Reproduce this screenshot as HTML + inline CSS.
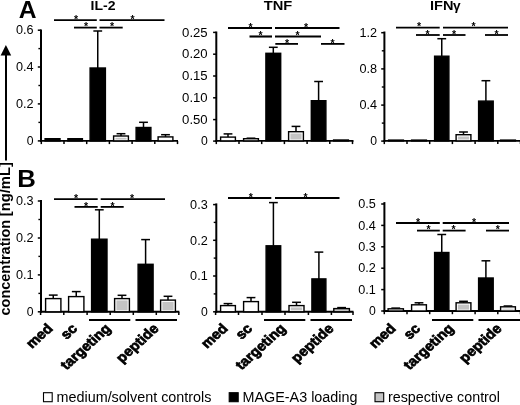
<!DOCTYPE html>
<html><head><meta charset="utf-8"><title>Figure</title>
<style>html,body{margin:0;padding:0;background:#fff;}svg{display:block}</style>
</head><body>
<svg width="520" height="405" viewBox="0 0 520 405" font-family="'Liberation Sans', Arial, sans-serif" fill="#000">
<rect width="520" height="405" fill="#fff"/>
<text x="18.80" y="18.10" font-size="23.8" font-weight="bold" textLength="17.8" lengthAdjust="spacingAndGlyphs">A</text>
<text x="17.30" y="186.80" font-size="24.6" font-weight="bold" textLength="18.6" lengthAdjust="spacingAndGlyphs">B</text>
<text x="103.00" y="10.30" font-size="13.5" font-weight="bold" text-anchor="middle" textLength="25" lengthAdjust="spacingAndGlyphs">IL-2</text>
<text x="278.00" y="10.30" font-size="13.5" font-weight="bold" text-anchor="middle" textLength="28.5" lengthAdjust="spacingAndGlyphs">TNF</text>
<text x="430.00" y="10.30" font-size="13.5" font-weight="bold" textLength="23.4" lengthAdjust="spacingAndGlyphs">IFN</text>
<text x="453.00" y="10.30" font-size="12" font-weight="bold" textLength="7.6" lengthAdjust="spacingAndGlyphs">γ</text>
<text x="9.80" y="315.50" font-size="15" font-weight="bold" textLength="95.7" lengthAdjust="spacingAndGlyphs" transform="rotate(-90 9.80 315.50)">concentration</text>
<text x="9.80" y="216.20" font-size="15" font-weight="bold" textLength="54" lengthAdjust="spacingAndGlyphs" transform="rotate(-90 9.80 216.20)">[ng/mL]</text>
<line x1="6.00" y1="54.00" x2="6.00" y2="160.50" stroke="#000" stroke-width="2"/>
<polygon points="5.9,45 0.6,55.6 11.2,55.6" fill="#000"/>
<g transform="translate(0 0.7)">
<line x1="41.00" y1="28.80" x2="41.00" y2="141.20" stroke="#000" stroke-width="2"/>
<line x1="40.00" y1="140.20" x2="178.00" y2="140.20" stroke="#000" stroke-width="1.9"/>
<line x1="37.80" y1="29.50" x2="41.00" y2="29.50" stroke="#000" stroke-width="1.5"/>
<text x="33.60" y="33.80" font-size="12" text-anchor="end" textLength="17.6" lengthAdjust="spacingAndGlyphs">0.6</text>
<line x1="37.80" y1="66.30" x2="41.00" y2="66.30" stroke="#000" stroke-width="1.5"/>
<text x="33.60" y="70.60" font-size="12" text-anchor="end" textLength="17.6" lengthAdjust="spacingAndGlyphs">0.4</text>
<line x1="37.80" y1="103.20" x2="41.00" y2="103.20" stroke="#000" stroke-width="1.5"/>
<text x="33.60" y="107.50" font-size="12" text-anchor="end" textLength="17.6" lengthAdjust="spacingAndGlyphs">0.2</text>
<line x1="37.80" y1="140.20" x2="41.00" y2="140.20" stroke="#000" stroke-width="1.5"/>
<text x="33.60" y="144.50" font-size="12" text-anchor="end" textLength="6.8" lengthAdjust="spacingAndGlyphs">0</text>
<line x1="38.40" y1="47.90" x2="41.00" y2="47.90" stroke="#000" stroke-width="1.4"/>
<line x1="38.40" y1="84.80" x2="41.00" y2="84.80" stroke="#000" stroke-width="1.4"/>
<line x1="38.40" y1="121.70" x2="41.00" y2="121.70" stroke="#000" stroke-width="1.4"/>
<line x1="41.30" y1="140.20" x2="41.30" y2="143.40" stroke="#000" stroke-width="1.5"/>
<line x1="64.00" y1="140.20" x2="64.00" y2="143.40" stroke="#000" stroke-width="1.5"/>
<line x1="86.70" y1="140.20" x2="86.70" y2="143.40" stroke="#000" stroke-width="1.5"/>
<line x1="109.40" y1="140.20" x2="109.40" y2="143.40" stroke="#000" stroke-width="1.5"/>
<line x1="132.10" y1="140.20" x2="132.10" y2="143.40" stroke="#000" stroke-width="1.5"/>
<line x1="154.80" y1="140.20" x2="154.80" y2="143.40" stroke="#000" stroke-width="1.5"/>
<line x1="177.50" y1="140.20" x2="177.50" y2="143.40" stroke="#000" stroke-width="1.5"/>
<rect x="45.10" y="138.00" width="14.90" height="2.20" fill="#000" stroke="#000" stroke-width="1.4"/>
<rect x="67.90" y="138.00" width="14.50" height="2.20" fill="#000" stroke="#000" stroke-width="1.4"/>
<line x1="97.75" y1="30.30" x2="97.75" y2="67.30" stroke="#000" stroke-width="1.5"/>
<line x1="93.35" y1="30.30" x2="102.15" y2="30.30" stroke="#000" stroke-width="1.5"/>
<rect x="90.10" y="67.30" width="15.30" height="72.90" fill="#000" stroke="#000" stroke-width="1.4"/>
<line x1="121.00" y1="133.00" x2="121.00" y2="135.30" stroke="#000" stroke-width="1.5"/>
<line x1="116.60" y1="133.00" x2="125.40" y2="133.00" stroke="#000" stroke-width="1.5"/>
<rect x="113.60" y="135.30" width="14.80" height="4.90" fill="#fff" stroke="#000" stroke-width="1.4"/>
<rect x="115.40" y="137.10" width="11.20" height="1.70" fill="#c4c4c4"/>
<line x1="143.50" y1="121.60" x2="143.50" y2="126.80" stroke="#000" stroke-width="1.5"/>
<line x1="139.10" y1="121.60" x2="147.90" y2="121.60" stroke="#000" stroke-width="1.5"/>
<rect x="136.10" y="126.80" width="14.80" height="13.40" fill="#000" stroke="#000" stroke-width="1.4"/>
<line x1="165.50" y1="134.00" x2="165.50" y2="136.20" stroke="#000" stroke-width="1.5"/>
<line x1="161.10" y1="134.00" x2="169.90" y2="134.00" stroke="#000" stroke-width="1.5"/>
<rect x="158.10" y="136.20" width="14.80" height="4.00" fill="#fff" stroke="#000" stroke-width="1.4"/>
</g>
<line x1="54.00" y1="20.20" x2="96.80" y2="20.20" stroke="#000" stroke-width="1.8"/>
<text x="76.00" y="22.90" font-size="10.5" font-weight="bold" text-anchor="middle">*</text>
<line x1="99.50" y1="20.20" x2="164.50" y2="20.20" stroke="#000" stroke-width="1.8"/>
<text x="132.50" y="22.90" font-size="10.5" font-weight="bold" text-anchor="middle">*</text>
<line x1="74.00" y1="27.60" x2="96.80" y2="27.60" stroke="#000" stroke-width="1.8"/>
<text x="86.00" y="30.30" font-size="10.5" font-weight="bold" text-anchor="middle">*</text>
<line x1="99.50" y1="27.60" x2="122.70" y2="27.60" stroke="#000" stroke-width="1.8"/>
<text x="112.00" y="30.30" font-size="10.5" font-weight="bold" text-anchor="middle">*</text>
<g transform="translate(0 0.7)">
<line x1="216.30" y1="30.80" x2="216.30" y2="141.20" stroke="#000" stroke-width="2"/>
<line x1="215.30" y1="140.20" x2="353.50" y2="140.20" stroke="#000" stroke-width="1.9"/>
<line x1="213.10" y1="31.70" x2="216.30" y2="31.70" stroke="#000" stroke-width="1.5"/>
<text x="207.70" y="36.00" font-size="12" text-anchor="end" textLength="25.6" lengthAdjust="spacingAndGlyphs">0.25</text>
<line x1="213.10" y1="53.50" x2="216.30" y2="53.50" stroke="#000" stroke-width="1.5"/>
<text x="207.70" y="57.80" font-size="12" text-anchor="end" textLength="25.6" lengthAdjust="spacingAndGlyphs">0.20</text>
<line x1="213.10" y1="75.30" x2="216.30" y2="75.30" stroke="#000" stroke-width="1.5"/>
<text x="207.70" y="79.60" font-size="12" text-anchor="end" textLength="25.6" lengthAdjust="spacingAndGlyphs">0.15</text>
<line x1="213.10" y1="97.10" x2="216.30" y2="97.10" stroke="#000" stroke-width="1.5"/>
<text x="207.70" y="101.40" font-size="12" text-anchor="end" textLength="25.6" lengthAdjust="spacingAndGlyphs">0.10</text>
<line x1="213.10" y1="118.90" x2="216.30" y2="118.90" stroke="#000" stroke-width="1.5"/>
<text x="207.70" y="123.20" font-size="12" text-anchor="end" textLength="25.6" lengthAdjust="spacingAndGlyphs">0.50</text>
<line x1="213.10" y1="140.40" x2="216.30" y2="140.40" stroke="#000" stroke-width="1.5"/>
<text x="207.70" y="144.70" font-size="12" text-anchor="end" textLength="6.8" lengthAdjust="spacingAndGlyphs">0</text>
<line x1="216.30" y1="140.20" x2="216.30" y2="143.40" stroke="#000" stroke-width="1.5"/>
<line x1="239.00" y1="140.20" x2="239.00" y2="143.40" stroke="#000" stroke-width="1.5"/>
<line x1="261.70" y1="140.20" x2="261.70" y2="143.40" stroke="#000" stroke-width="1.5"/>
<line x1="284.40" y1="140.20" x2="284.40" y2="143.40" stroke="#000" stroke-width="1.5"/>
<line x1="307.10" y1="140.20" x2="307.10" y2="143.40" stroke="#000" stroke-width="1.5"/>
<line x1="329.80" y1="140.20" x2="329.80" y2="143.40" stroke="#000" stroke-width="1.5"/>
<line x1="352.50" y1="140.20" x2="352.50" y2="143.40" stroke="#000" stroke-width="1.5"/>
<line x1="228.00" y1="133.20" x2="228.00" y2="136.40" stroke="#000" stroke-width="1.5"/>
<line x1="223.60" y1="133.20" x2="232.40" y2="133.20" stroke="#000" stroke-width="1.5"/>
<rect x="220.60" y="136.40" width="14.80" height="3.80" fill="#fff" stroke="#000" stroke-width="1.4"/>
<line x1="251.00" y1="137.50" x2="251.00" y2="138.00" stroke="#000" stroke-width="1.5"/>
<line x1="246.60" y1="137.50" x2="255.40" y2="137.50" stroke="#000" stroke-width="1.5"/>
<rect x="243.60" y="138.00" width="14.80" height="2.20" fill="#fff" stroke="#000" stroke-width="1.4"/>
<line x1="273.30" y1="46.60" x2="273.30" y2="52.60" stroke="#000" stroke-width="1.5"/>
<line x1="268.90" y1="46.60" x2="277.70" y2="46.60" stroke="#000" stroke-width="1.5"/>
<rect x="265.90" y="52.60" width="14.80" height="87.60" fill="#000" stroke="#000" stroke-width="1.4"/>
<line x1="296.00" y1="125.70" x2="296.00" y2="131.00" stroke="#000" stroke-width="1.5"/>
<line x1="291.60" y1="125.70" x2="300.40" y2="125.70" stroke="#000" stroke-width="1.5"/>
<rect x="288.60" y="131.00" width="14.80" height="9.20" fill="#fff" stroke="#000" stroke-width="1.4"/>
<rect x="290.40" y="132.80" width="11.20" height="6.00" fill="#c4c4c4"/>
<line x1="318.60" y1="80.80" x2="318.60" y2="100.00" stroke="#000" stroke-width="1.5"/>
<line x1="314.20" y1="80.80" x2="323.00" y2="80.80" stroke="#000" stroke-width="1.5"/>
<rect x="311.30" y="100.00" width="14.60" height="40.20" fill="#000" stroke="#000" stroke-width="1.4"/>
<rect x="333.60" y="139.30" width="14.80" height="0.90" fill="#fff" stroke="#000" stroke-width="1.4"/>
</g>
<line x1="228.00" y1="28.00" x2="272.00" y2="28.00" stroke="#000" stroke-width="1.8"/>
<text x="250.50" y="30.70" font-size="10.5" font-weight="bold" text-anchor="middle">*</text>
<line x1="275.00" y1="28.00" x2="339.50" y2="28.00" stroke="#000" stroke-width="1.8"/>
<text x="306.00" y="30.70" font-size="10.5" font-weight="bold" text-anchor="middle">*</text>
<line x1="249.50" y1="36.50" x2="272.00" y2="36.50" stroke="#000" stroke-width="2.1"/>
<text x="260.50" y="39.20" font-size="10.5" font-weight="bold" text-anchor="middle">*</text>
<line x1="275.00" y1="36.50" x2="321.00" y2="36.50" stroke="#000" stroke-width="1.8"/>
<text x="297.50" y="39.20" font-size="10.5" font-weight="bold" text-anchor="middle">*</text>
<line x1="275.30" y1="43.90" x2="298.00" y2="43.90" stroke="#000" stroke-width="1.8"/>
<text x="287.00" y="46.60" font-size="10.5" font-weight="bold" text-anchor="middle">*</text>
<line x1="321.00" y1="43.90" x2="344.50" y2="43.90" stroke="#000" stroke-width="1.8"/>
<text x="332.50" y="46.60" font-size="10.5" font-weight="bold" text-anchor="middle">*</text>
<g transform="translate(0 0.7)">
<line x1="384.40" y1="30.80" x2="384.40" y2="141.20" stroke="#000" stroke-width="2"/>
<line x1="383.40" y1="140.20" x2="520.00" y2="140.20" stroke="#000" stroke-width="1.9"/>
<line x1="381.20" y1="32.00" x2="384.40" y2="32.00" stroke="#000" stroke-width="1.5"/>
<text x="377.00" y="36.30" font-size="12" text-anchor="end" textLength="17.6" lengthAdjust="spacingAndGlyphs">1.2</text>
<line x1="381.20" y1="68.20" x2="384.40" y2="68.20" stroke="#000" stroke-width="1.5"/>
<text x="377.00" y="72.50" font-size="12" text-anchor="end" textLength="17.6" lengthAdjust="spacingAndGlyphs">0.8</text>
<line x1="381.20" y1="104.40" x2="384.40" y2="104.40" stroke="#000" stroke-width="1.5"/>
<text x="377.00" y="108.70" font-size="12" text-anchor="end" textLength="17.6" lengthAdjust="spacingAndGlyphs">0.4</text>
<line x1="381.20" y1="140.40" x2="384.40" y2="140.40" stroke="#000" stroke-width="1.5"/>
<text x="377.00" y="144.70" font-size="12" text-anchor="end" textLength="6.8" lengthAdjust="spacingAndGlyphs">0</text>
<line x1="381.80" y1="50.10" x2="384.40" y2="50.10" stroke="#000" stroke-width="1.4"/>
<line x1="381.80" y1="86.30" x2="384.40" y2="86.30" stroke="#000" stroke-width="1.4"/>
<line x1="381.80" y1="122.40" x2="384.40" y2="122.40" stroke="#000" stroke-width="1.4"/>
<line x1="384.30" y1="140.20" x2="384.30" y2="143.40" stroke="#000" stroke-width="1.5"/>
<line x1="407.00" y1="140.20" x2="407.00" y2="143.40" stroke="#000" stroke-width="1.5"/>
<line x1="429.70" y1="140.20" x2="429.70" y2="143.40" stroke="#000" stroke-width="1.5"/>
<line x1="452.40" y1="140.20" x2="452.40" y2="143.40" stroke="#000" stroke-width="1.5"/>
<line x1="475.10" y1="140.20" x2="475.10" y2="143.40" stroke="#000" stroke-width="1.5"/>
<line x1="497.80" y1="140.20" x2="497.80" y2="143.40" stroke="#000" stroke-width="1.5"/>
<line x1="520.50" y1="140.20" x2="520.50" y2="143.40" stroke="#000" stroke-width="1.5"/>
<rect x="388.60" y="139.40" width="14.80" height="0.80" fill="#fff" stroke="#000" stroke-width="1.4"/>
<rect x="411.60" y="139.40" width="14.80" height="0.80" fill="#fff" stroke="#000" stroke-width="1.4"/>
<line x1="441.75" y1="38.00" x2="441.75" y2="55.50" stroke="#000" stroke-width="1.5"/>
<line x1="437.35" y1="38.00" x2="446.15" y2="38.00" stroke="#000" stroke-width="1.5"/>
<rect x="434.60" y="55.50" width="14.30" height="84.70" fill="#000" stroke="#000" stroke-width="1.4"/>
<line x1="463.50" y1="131.30" x2="463.50" y2="134.00" stroke="#000" stroke-width="1.5"/>
<line x1="459.10" y1="131.30" x2="467.90" y2="131.30" stroke="#000" stroke-width="1.5"/>
<rect x="456.10" y="134.00" width="14.80" height="6.20" fill="#fff" stroke="#000" stroke-width="1.4"/>
<rect x="457.90" y="135.80" width="11.20" height="3.00" fill="#c4c4c4"/>
<line x1="485.90" y1="80.00" x2="485.90" y2="100.40" stroke="#000" stroke-width="1.5"/>
<line x1="481.50" y1="80.00" x2="490.30" y2="80.00" stroke="#000" stroke-width="1.5"/>
<rect x="478.60" y="100.40" width="14.60" height="39.80" fill="#000" stroke="#000" stroke-width="1.4"/>
<rect x="500.60" y="139.40" width="14.80" height="0.80" fill="#fff" stroke="#000" stroke-width="1.4"/>
</g>
<line x1="396.00" y1="27.60" x2="439.70" y2="27.60" stroke="#000" stroke-width="1.8"/>
<text x="419.00" y="30.30" font-size="10.5" font-weight="bold" text-anchor="middle">*</text>
<line x1="443.00" y1="27.60" x2="508.00" y2="27.60" stroke="#000" stroke-width="1.8"/>
<text x="473.50" y="30.30" font-size="10.5" font-weight="bold" text-anchor="middle">*</text>
<line x1="416.00" y1="35.00" x2="439.70" y2="35.00" stroke="#000" stroke-width="1.8"/>
<text x="427.50" y="37.70" font-size="10.5" font-weight="bold" text-anchor="middle">*</text>
<line x1="443.00" y1="35.00" x2="465.50" y2="35.00" stroke="#000" stroke-width="1.8"/>
<text x="454.00" y="37.70" font-size="10.5" font-weight="bold" text-anchor="middle">*</text>
<line x1="485.00" y1="35.00" x2="508.00" y2="35.00" stroke="#000" stroke-width="1.8"/>
<text x="496.50" y="37.70" font-size="10.5" font-weight="bold" text-anchor="middle">*</text>
<g transform="translate(0 0.6)">
<line x1="41.00" y1="199.30" x2="41.00" y2="312.20" stroke="#000" stroke-width="2"/>
<line x1="40.00" y1="311.20" x2="179.30" y2="311.20" stroke="#000" stroke-width="1.9"/>
<line x1="37.80" y1="200.40" x2="41.00" y2="200.40" stroke="#000" stroke-width="1.5"/>
<text x="33.60" y="204.70" font-size="12" text-anchor="end" textLength="17.6" lengthAdjust="spacingAndGlyphs">0.3</text>
<line x1="37.80" y1="237.40" x2="41.00" y2="237.40" stroke="#000" stroke-width="1.5"/>
<text x="33.60" y="241.70" font-size="12" text-anchor="end" textLength="17.6" lengthAdjust="spacingAndGlyphs">0.2</text>
<line x1="37.80" y1="274.30" x2="41.00" y2="274.30" stroke="#000" stroke-width="1.5"/>
<text x="33.60" y="278.60" font-size="12" text-anchor="end" textLength="17.6" lengthAdjust="spacingAndGlyphs">0.1</text>
<line x1="37.80" y1="311.20" x2="41.00" y2="311.20" stroke="#000" stroke-width="1.5"/>
<text x="33.60" y="315.50" font-size="12" text-anchor="end" textLength="6.8" lengthAdjust="spacingAndGlyphs">0</text>
<line x1="38.40" y1="218.90" x2="41.00" y2="218.90" stroke="#000" stroke-width="1.4"/>
<line x1="38.40" y1="255.80" x2="41.00" y2="255.80" stroke="#000" stroke-width="1.4"/>
<line x1="38.40" y1="292.80" x2="41.00" y2="292.80" stroke="#000" stroke-width="1.4"/>
<line x1="40.60" y1="311.20" x2="40.60" y2="314.40" stroke="#000" stroke-width="1.5"/>
<line x1="63.80" y1="311.20" x2="63.80" y2="314.40" stroke="#000" stroke-width="1.5"/>
<line x1="87.10" y1="311.20" x2="87.10" y2="314.40" stroke="#000" stroke-width="1.5"/>
<line x1="110.20" y1="311.20" x2="110.20" y2="314.40" stroke="#000" stroke-width="1.5"/>
<line x1="133.30" y1="311.20" x2="133.30" y2="314.40" stroke="#000" stroke-width="1.5"/>
<line x1="156.30" y1="311.20" x2="156.30" y2="314.40" stroke="#000" stroke-width="1.5"/>
<line x1="178.80" y1="311.20" x2="178.80" y2="314.40" stroke="#000" stroke-width="1.5"/>
<line x1="53.25" y1="294.50" x2="53.25" y2="298.00" stroke="#000" stroke-width="1.5"/>
<line x1="48.85" y1="294.50" x2="57.65" y2="294.50" stroke="#000" stroke-width="1.5"/>
<rect x="45.60" y="298.00" width="15.30" height="13.20" fill="#fff" stroke="#000" stroke-width="1.4"/>
<line x1="76.25" y1="291.00" x2="76.25" y2="296.00" stroke="#000" stroke-width="1.5"/>
<line x1="71.85" y1="291.00" x2="80.65" y2="291.00" stroke="#000" stroke-width="1.5"/>
<rect x="68.60" y="296.00" width="15.30" height="15.20" fill="#fff" stroke="#000" stroke-width="1.4"/>
<line x1="99.30" y1="209.20" x2="99.30" y2="238.60" stroke="#000" stroke-width="1.5"/>
<line x1="94.90" y1="209.20" x2="103.70" y2="209.20" stroke="#000" stroke-width="1.5"/>
<rect x="91.60" y="238.60" width="15.40" height="72.60" fill="#000" stroke="#000" stroke-width="1.4"/>
<line x1="122.00" y1="294.70" x2="122.00" y2="298.00" stroke="#000" stroke-width="1.5"/>
<line x1="117.60" y1="294.70" x2="126.40" y2="294.70" stroke="#000" stroke-width="1.5"/>
<rect x="114.60" y="298.00" width="14.80" height="13.20" fill="#fff" stroke="#000" stroke-width="1.4"/>
<rect x="116.40" y="299.80" width="11.20" height="10.00" fill="#c4c4c4"/>
<line x1="145.60" y1="239.00" x2="145.60" y2="263.70" stroke="#000" stroke-width="1.5"/>
<line x1="141.20" y1="239.00" x2="150.00" y2="239.00" stroke="#000" stroke-width="1.5"/>
<rect x="138.10" y="263.70" width="15.00" height="47.50" fill="#000" stroke="#000" stroke-width="1.4"/>
<line x1="168.00" y1="295.70" x2="168.00" y2="299.50" stroke="#000" stroke-width="1.5"/>
<line x1="163.60" y1="295.70" x2="172.40" y2="295.70" stroke="#000" stroke-width="1.5"/>
<rect x="160.60" y="299.50" width="14.80" height="11.70" fill="#fff" stroke="#000" stroke-width="1.4"/>
<rect x="162.40" y="301.30" width="11.20" height="8.50" fill="#c4c4c4"/>
</g>
<line x1="54.00" y1="199.10" x2="97.70" y2="199.10" stroke="#000" stroke-width="1.8"/>
<text x="76.00" y="201.80" font-size="10.5" font-weight="bold" text-anchor="middle">*</text>
<line x1="100.70" y1="199.10" x2="165.00" y2="199.10" stroke="#000" stroke-width="1.8"/>
<text x="132.00" y="201.80" font-size="10.5" font-weight="bold" text-anchor="middle">*</text>
<line x1="74.50" y1="206.90" x2="97.70" y2="206.90" stroke="#000" stroke-width="1.8"/>
<text x="86.00" y="209.60" font-size="10.5" font-weight="bold" text-anchor="middle">*</text>
<line x1="100.70" y1="206.90" x2="123.70" y2="206.90" stroke="#000" stroke-width="1.8"/>
<text x="112.50" y="209.60" font-size="10.5" font-weight="bold" text-anchor="middle">*</text>
<g transform="translate(0 0.6)">
<line x1="216.30" y1="202.80" x2="216.30" y2="312.20" stroke="#000" stroke-width="2"/>
<line x1="215.30" y1="311.20" x2="353.50" y2="311.20" stroke="#000" stroke-width="1.9"/>
<line x1="213.10" y1="204.00" x2="216.30" y2="204.00" stroke="#000" stroke-width="1.5"/>
<text x="207.70" y="208.30" font-size="12" text-anchor="end" textLength="17.6" lengthAdjust="spacingAndGlyphs">0.3</text>
<line x1="213.10" y1="239.70" x2="216.30" y2="239.70" stroke="#000" stroke-width="1.5"/>
<text x="207.70" y="244.00" font-size="12" text-anchor="end" textLength="17.6" lengthAdjust="spacingAndGlyphs">0.2</text>
<line x1="213.10" y1="275.40" x2="216.30" y2="275.40" stroke="#000" stroke-width="1.5"/>
<text x="207.70" y="279.70" font-size="12" text-anchor="end" textLength="17.6" lengthAdjust="spacingAndGlyphs">0.1</text>
<line x1="213.10" y1="311.20" x2="216.30" y2="311.20" stroke="#000" stroke-width="1.5"/>
<text x="207.70" y="315.50" font-size="12" text-anchor="end" textLength="6.8" lengthAdjust="spacingAndGlyphs">0</text>
<line x1="213.70" y1="221.80" x2="216.30" y2="221.80" stroke="#000" stroke-width="1.4"/>
<line x1="213.70" y1="257.50" x2="216.30" y2="257.50" stroke="#000" stroke-width="1.4"/>
<line x1="213.70" y1="293.30" x2="216.30" y2="293.30" stroke="#000" stroke-width="1.4"/>
<line x1="215.60" y1="311.20" x2="215.60" y2="314.40" stroke="#000" stroke-width="1.5"/>
<line x1="238.50" y1="311.20" x2="238.50" y2="314.40" stroke="#000" stroke-width="1.5"/>
<line x1="262.00" y1="311.20" x2="262.00" y2="314.40" stroke="#000" stroke-width="1.5"/>
<line x1="285.00" y1="311.20" x2="285.00" y2="314.40" stroke="#000" stroke-width="1.5"/>
<line x1="308.40" y1="311.20" x2="308.40" y2="314.40" stroke="#000" stroke-width="1.5"/>
<line x1="331.40" y1="311.20" x2="331.40" y2="314.40" stroke="#000" stroke-width="1.5"/>
<line x1="353.00" y1="311.20" x2="353.00" y2="314.40" stroke="#000" stroke-width="1.5"/>
<line x1="228.00" y1="303.00" x2="228.00" y2="305.00" stroke="#000" stroke-width="1.5"/>
<line x1="223.60" y1="303.00" x2="232.40" y2="303.00" stroke="#000" stroke-width="1.5"/>
<rect x="220.60" y="305.00" width="14.80" height="6.20" fill="#fff" stroke="#000" stroke-width="1.4"/>
<line x1="251.00" y1="297.00" x2="251.00" y2="301.00" stroke="#000" stroke-width="1.5"/>
<line x1="246.60" y1="297.00" x2="255.40" y2="297.00" stroke="#000" stroke-width="1.5"/>
<rect x="243.60" y="301.00" width="14.80" height="10.20" fill="#fff" stroke="#000" stroke-width="1.4"/>
<line x1="273.40" y1="202.00" x2="273.40" y2="245.20" stroke="#000" stroke-width="1.5"/>
<line x1="269.00" y1="202.00" x2="277.80" y2="202.00" stroke="#000" stroke-width="1.5"/>
<rect x="266.10" y="245.20" width="14.60" height="66.00" fill="#000" stroke="#000" stroke-width="1.4"/>
<line x1="296.50" y1="301.70" x2="296.50" y2="305.00" stroke="#000" stroke-width="1.5"/>
<line x1="292.10" y1="301.70" x2="300.90" y2="301.70" stroke="#000" stroke-width="1.5"/>
<rect x="289.00" y="305.00" width="15.00" height="6.20" fill="#fff" stroke="#000" stroke-width="1.4"/>
<rect x="290.80" y="306.80" width="11.40" height="3.00" fill="#c4c4c4"/>
<line x1="318.90" y1="251.50" x2="318.90" y2="278.30" stroke="#000" stroke-width="1.5"/>
<line x1="314.50" y1="251.50" x2="323.30" y2="251.50" stroke="#000" stroke-width="1.5"/>
<rect x="311.90" y="278.30" width="14.00" height="32.90" fill="#000" stroke="#000" stroke-width="1.4"/>
<line x1="341.60" y1="307.00" x2="341.60" y2="308.00" stroke="#000" stroke-width="1.5"/>
<line x1="337.20" y1="307.00" x2="346.00" y2="307.00" stroke="#000" stroke-width="1.5"/>
<rect x="333.80" y="308.00" width="15.60" height="3.20" fill="#c4c4c4" stroke="#000" stroke-width="1.4"/>
</g>
<line x1="228.00" y1="198.00" x2="271.30" y2="198.00" stroke="#000" stroke-width="1.8"/>
<text x="250.70" y="200.70" font-size="10.5" font-weight="bold" text-anchor="middle">*</text>
<line x1="275.00" y1="198.00" x2="339.50" y2="198.00" stroke="#000" stroke-width="1.8"/>
<text x="305.50" y="200.70" font-size="10.5" font-weight="bold" text-anchor="middle">*</text>
<g transform="translate(0 -0.2)">
<line x1="384.40" y1="202.30" x2="384.40" y2="312.20" stroke="#000" stroke-width="2"/>
<line x1="383.40" y1="311.20" x2="520.00" y2="311.20" stroke="#000" stroke-width="1.9"/>
<line x1="381.20" y1="204.20" x2="384.40" y2="204.20" stroke="#000" stroke-width="1.5"/>
<text x="375.80" y="208.50" font-size="12" text-anchor="end" textLength="17.6" lengthAdjust="spacingAndGlyphs">0.5</text>
<line x1="381.20" y1="225.60" x2="384.40" y2="225.60" stroke="#000" stroke-width="1.5"/>
<text x="375.80" y="229.90" font-size="12" text-anchor="end" textLength="17.6" lengthAdjust="spacingAndGlyphs">0.4</text>
<line x1="381.20" y1="247.00" x2="384.40" y2="247.00" stroke="#000" stroke-width="1.5"/>
<text x="375.80" y="251.30" font-size="12" text-anchor="end" textLength="17.6" lengthAdjust="spacingAndGlyphs">0.3</text>
<line x1="381.20" y1="268.40" x2="384.40" y2="268.40" stroke="#000" stroke-width="1.5"/>
<text x="375.80" y="272.70" font-size="12" text-anchor="end" textLength="17.6" lengthAdjust="spacingAndGlyphs">0.2</text>
<line x1="381.20" y1="289.80" x2="384.40" y2="289.80" stroke="#000" stroke-width="1.5"/>
<text x="375.80" y="294.10" font-size="12" text-anchor="end" textLength="17.6" lengthAdjust="spacingAndGlyphs">0.1</text>
<line x1="381.20" y1="311.20" x2="384.40" y2="311.20" stroke="#000" stroke-width="1.5"/>
<text x="375.80" y="315.50" font-size="12" text-anchor="end" textLength="6.8" lengthAdjust="spacingAndGlyphs">0</text>
<line x1="384.30" y1="311.20" x2="384.30" y2="314.40" stroke="#000" stroke-width="1.5"/>
<line x1="407.00" y1="311.20" x2="407.00" y2="314.40" stroke="#000" stroke-width="1.5"/>
<line x1="429.70" y1="311.20" x2="429.70" y2="314.40" stroke="#000" stroke-width="1.5"/>
<line x1="452.40" y1="311.20" x2="452.40" y2="314.40" stroke="#000" stroke-width="1.5"/>
<line x1="475.10" y1="311.20" x2="475.10" y2="314.40" stroke="#000" stroke-width="1.5"/>
<line x1="497.80" y1="311.20" x2="497.80" y2="314.40" stroke="#000" stroke-width="1.5"/>
<line x1="520.50" y1="311.20" x2="520.50" y2="314.40" stroke="#000" stroke-width="1.5"/>
<line x1="395.75" y1="308.30" x2="395.75" y2="309.00" stroke="#000" stroke-width="1.5"/>
<line x1="391.35" y1="308.30" x2="400.15" y2="308.30" stroke="#000" stroke-width="1.5"/>
<rect x="388.10" y="309.00" width="15.30" height="2.20" fill="#fff" stroke="#000" stroke-width="1.4"/>
<line x1="419.00" y1="303.00" x2="419.00" y2="305.00" stroke="#000" stroke-width="1.5"/>
<line x1="414.60" y1="303.00" x2="423.40" y2="303.00" stroke="#000" stroke-width="1.5"/>
<rect x="411.60" y="305.00" width="14.80" height="6.20" fill="#fff" stroke="#000" stroke-width="1.4"/>
<line x1="441.75" y1="234.70" x2="441.75" y2="252.70" stroke="#000" stroke-width="1.5"/>
<line x1="437.35" y1="234.70" x2="446.15" y2="234.70" stroke="#000" stroke-width="1.5"/>
<rect x="434.60" y="252.70" width="14.30" height="58.50" fill="#000" stroke="#000" stroke-width="1.4"/>
<line x1="463.50" y1="301.50" x2="463.50" y2="303.00" stroke="#000" stroke-width="1.5"/>
<line x1="459.10" y1="301.50" x2="467.90" y2="301.50" stroke="#000" stroke-width="1.5"/>
<rect x="456.10" y="303.00" width="14.80" height="8.20" fill="#fff" stroke="#000" stroke-width="1.4"/>
<rect x="457.90" y="304.80" width="11.20" height="5.00" fill="#c4c4c4"/>
<line x1="485.90" y1="261.00" x2="485.90" y2="278.20" stroke="#000" stroke-width="1.5"/>
<line x1="481.50" y1="261.00" x2="490.30" y2="261.00" stroke="#000" stroke-width="1.5"/>
<rect x="478.60" y="278.20" width="14.60" height="33.00" fill="#000" stroke="#000" stroke-width="1.4"/>
<line x1="508.00" y1="306.20" x2="508.00" y2="307.00" stroke="#000" stroke-width="1.5"/>
<line x1="503.60" y1="306.20" x2="512.40" y2="306.20" stroke="#000" stroke-width="1.5"/>
<rect x="500.60" y="307.00" width="14.80" height="4.20" fill="#fff" stroke="#000" stroke-width="1.4"/>
<rect x="502.40" y="308.80" width="11.20" height="1.00" fill="#c4c4c4"/>
</g>
<line x1="396.00" y1="223.00" x2="439.80" y2="223.00" stroke="#000" stroke-width="1.8"/>
<text x="418.00" y="225.70" font-size="10.5" font-weight="bold" text-anchor="middle">*</text>
<line x1="442.70" y1="223.00" x2="509.00" y2="223.00" stroke="#000" stroke-width="1.8"/>
<text x="474.00" y="225.70" font-size="10.5" font-weight="bold" text-anchor="middle">*</text>
<line x1="417.00" y1="230.60" x2="439.80" y2="230.60" stroke="#000" stroke-width="1.8"/>
<text x="428.50" y="233.30" font-size="10.5" font-weight="bold" text-anchor="middle">*</text>
<line x1="442.70" y1="230.60" x2="465.60" y2="230.60" stroke="#000" stroke-width="1.8"/>
<text x="453.50" y="233.30" font-size="10.5" font-weight="bold" text-anchor="middle">*</text>
<line x1="486.00" y1="230.60" x2="509.00" y2="230.60" stroke="#000" stroke-width="1.8"/>
<text x="497.70" y="233.30" font-size="10.5" font-weight="bold" text-anchor="middle">*</text>
<text font-size="13.6" font-weight="bold" text-anchor="end" stroke="#000" stroke-width="0.7" transform="translate(53.70 329.3) scale(1.1 1) rotate(-45)">med</text>
<text font-size="13.6" font-weight="bold" text-anchor="end" stroke="#000" stroke-width="0.7" transform="translate(78.20 329.3) scale(1.1 1) rotate(-45)">sc</text>
<text font-size="13.6" font-weight="bold" text-anchor="end" stroke="#000" stroke-width="0.7" transform="translate(111.70 329.3) scale(1.1 1) rotate(-45)">targeting</text>
<text font-size="13.6" font-weight="bold" text-anchor="end" stroke="#000" stroke-width="0.7" transform="translate(159.70 329.3) scale(1.1 1) rotate(-45)">peptide</text>
<line x1="89.00" y1="320.00" x2="130.30" y2="320.00" stroke="#000" stroke-width="1.9"/>
<line x1="135.50" y1="320.00" x2="177.00" y2="320.00" stroke="#000" stroke-width="1.9"/>
<text font-size="13.6" font-weight="bold" text-anchor="end" stroke="#000" stroke-width="0.7" transform="translate(228.70 329.3) scale(1.1 1) rotate(-45)">med</text>
<text font-size="13.6" font-weight="bold" text-anchor="end" stroke="#000" stroke-width="0.7" transform="translate(253.20 329.3) scale(1.1 1) rotate(-45)">sc</text>
<text font-size="13.6" font-weight="bold" text-anchor="end" stroke="#000" stroke-width="0.7" transform="translate(286.70 329.3) scale(1.1 1) rotate(-45)">targeting</text>
<text font-size="13.6" font-weight="bold" text-anchor="end" stroke="#000" stroke-width="0.7" transform="translate(334.70 329.3) scale(1.1 1) rotate(-45)">peptide</text>
<line x1="264.00" y1="320.00" x2="305.30" y2="320.00" stroke="#000" stroke-width="1.9"/>
<line x1="310.50" y1="320.00" x2="352.00" y2="320.00" stroke="#000" stroke-width="1.9"/>
<text font-size="13.6" font-weight="bold" text-anchor="end" stroke="#000" stroke-width="0.7" transform="translate(396.70 329.3) scale(1.1 1) rotate(-45)">med</text>
<text font-size="13.6" font-weight="bold" text-anchor="end" stroke="#000" stroke-width="0.7" transform="translate(421.20 329.3) scale(1.1 1) rotate(-45)">sc</text>
<text font-size="13.6" font-weight="bold" text-anchor="end" stroke="#000" stroke-width="0.7" transform="translate(454.70 329.3) scale(1.1 1) rotate(-45)">targeting</text>
<text font-size="13.6" font-weight="bold" text-anchor="end" stroke="#000" stroke-width="0.7" transform="translate(502.70 329.3) scale(1.1 1) rotate(-45)">peptide</text>
<line x1="432.00" y1="320.00" x2="473.30" y2="320.00" stroke="#000" stroke-width="1.9"/>
<line x1="478.50" y1="320.00" x2="520.00" y2="320.00" stroke="#000" stroke-width="1.9"/>
<rect x="43.50" y="392.70" width="8.70" height="9.00" fill="#fff" stroke="#000" stroke-width="1.1"/>
<text x="56.50" y="401.70" font-size="14" textLength="155" lengthAdjust="spacingAndGlyphs">medium/solvent controls</text>
<rect x="229.20" y="392.70" width="9.00" height="9.00" fill="#000" stroke="#000" stroke-width="1.1"/>
<text x="242.50" y="401.70" font-size="14" textLength="115" lengthAdjust="spacingAndGlyphs">MAGE-A3 loading</text>
<rect x="375.00" y="392.70" width="8.70" height="9.00" fill="#c4c4c4" stroke="#000" stroke-width="1.1"/>
<text x="388.00" y="401.70" font-size="14" textLength="112" lengthAdjust="spacingAndGlyphs">respective control</text>
</svg>
</body></html>
